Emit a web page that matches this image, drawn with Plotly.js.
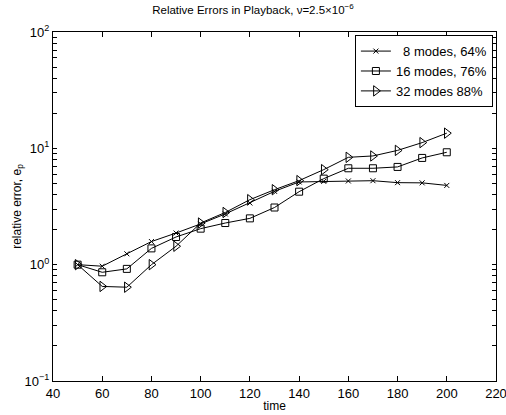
<!DOCTYPE html>
<html>
<head>
<meta charset="utf-8">
<script src="https://cdn.plot.ly/plotly-3.0.1.min.js"></script>
<style>html,body{margin:0;padding:0;background:#fff;}#chart{width:506px;height:415px;}</style>
</head>
<body>
<div id="chart"></div>
<script>
var time = [50, 60, 70, 80, 90, 100, 110, 120, 130, 140, 150, 160, 170, 180, 190, 200];
var modes8 = [1.0, 0.97, 1.24, 1.58, 1.87, 2.24, 2.73, 3.39, 4.27, 5.14, 5.2, 5.24, 5.27, 5.07, 5.05, 4.8];
var modes16 = [1.0, 0.86, 0.92, 1.38, 1.73, 2.04, 2.28, 2.5, 3.1, 4.24, 5.49, 6.74, 6.74, 6.92, 8.27, 9.25];
var modes32 = [1.0, 0.65, 0.64, 1.0, 1.44, 2.28, 2.81, 3.62, 4.41, 5.28, 6.56, 8.37, 8.6, 9.6, 11.2, 13.5];
var seriesNames = ['\u00a0\u00a08 modes, 64%', '16 modes, 76%', '32 modes 88%'];
var xTicks = [40, 60, 80, 100, 120, 140, 160, 180, 200, 220];
var yTickVals = [0.1, 1, 10, 100];
var yTickText = ['10<sup>\u22121</sup>', '10<sup>0</sup>', '10<sup>1</sup>', '10<sup>2</sup>'];
var yMinorVals = [0.2, 0.3, 0.4, 0.5, 0.6, 0.7, 0.8, 0.9, 2, 3, 4, 5, 6, 7, 8, 9, 20, 30, 40, 50, 60, 70, 80, 90];

// combined tick list: labelled decades plus unlabelled minor positions
var allTickVals = yTickVals.concat(yMinorVals);
var allTickText = yTickText.concat(yMinorVals.map(function () { return ''; }));

var font = 'Liberation Sans, Arial, Helvetica, sans-serif';
function tr(y, name, sym, size) {
  return {x: time, y: y, name: name, type: 'scatter', mode: 'lines+markers',
    line: {color: '#000', width: 1},
    marker: {symbol: sym, size: size, color: '#000', line: {color: '#000', width: 1}}};
}
var data = [
  tr(modes8, seriesNames[0], 'x-thin-open', 5),
  tr(modes16, seriesNames[1], 'square-open', 7),
  tr(modes32, seriesNames[2], 'triangle-right-open', 9)
];
var layout = {
  width: 506, height: 415,
  margin: {l: 53, r: 10, t: 32, b: 34},
  paper_bgcolor: '#fff', plot_bgcolor: '#fff',
  font: {family: font, size: 12, color: '#000'},
  title: {text: 'Relative Errors in Playback, \u03bd=2.5\u00d710<sup>\u22126</sup>', font: {size: 11.5}, x: 0.5, xanchor: 'center', y: 0.985, yanchor: 'top'},
  showlegend: true,
  legend: {x: 0.993, xanchor: 'right', y: 0.991, yanchor: 'top', bordercolor: '#000', borderwidth: 1, bgcolor: '#fff', font: {size: 13}, itemwidth: 30},
  xaxis: {range: [40, 220], tickvals: xTicks, ticks: 'inside', ticklen: 5, tickcolor: '#000',
    showline: true, linecolor: '#000', linewidth: 1, mirror: 'ticks', showgrid: false, zeroline: false,
    ticklabeloverflow: 'allow',
    title: {text: 'time', font: {size: 12}, standoff: 2}, tickfont: {size: 13}},
  yaxis: {type: 'log', range: [-1, 2], tickmode: 'array', tickvals: allTickVals, ticktext: allTickText, ticks: 'inside', ticklen: 4, tickcolor: '#000',
    showline: true, linecolor: '#000', linewidth: 1, mirror: 'ticks', showgrid: false, zeroline: false,
    title: {text: 'relative error, e<sub>p</sub>', font: {size: 12}, standoff: 0}, tickfont: {size: 13}}
};
Plotly.newPlot('chart', data, layout, {displayModeBar: false, staticPlot: true});
</script>
</body>
</html>
